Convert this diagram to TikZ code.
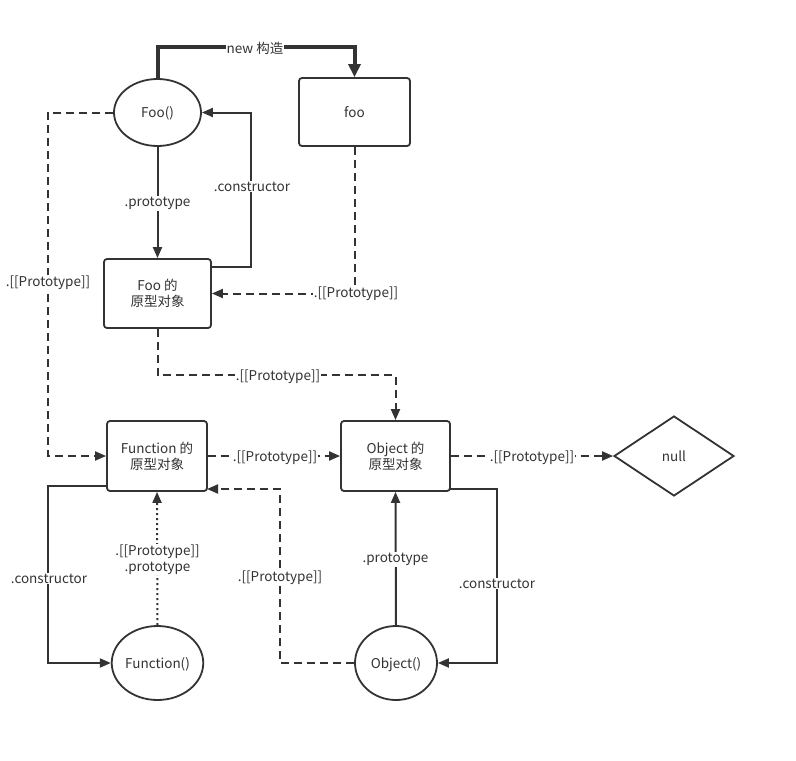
\documentclass[tikz,border=0pt]{standalone}
\usepackage{fontspec}
\setmainfont{Noto Sans CJK SC}
\usetikzlibrary{shapes.geometric,arrows.meta,calc}
\definecolor{ln}{HTML}{333333}
\newcommand{\lowtxt}[1]{\raisebox{-2pt}[\height][\depth]{\begin{tabular}{@{}c@{}}#1\end{tabular}}}
\begin{document}
\begin{tikzpicture}[x=1pt,y=-1pt,
 every node/.style={font=\fontsize{13.5}{16}\selectfont, text=ln},
 box/.style={draw=ln, line width=1.8pt, rounded corners=3pt, inner sep=0pt, align=center},
 oval/.style={ellipse, draw=ln, line width=1.8pt, inner sep=0pt},
 conn/.style={draw=ln, line width=2pt, -{Triangle[length=11pt,width=9pt]}},
 dconn/.style={conn, dash pattern=on 8pt off 5pt},
 oconn/.style={conn, dash pattern=on 2pt off 3pt},
 lbl/.style={fill=white, inner sep=1pt, align=center, yshift=-1.5pt},
]
\useasboundingbox (0,0) rectangle (796,761);
\fill[white] (0,0) rectangle (796,761);

% nodes
\node[oval, minimum width=87pt, minimum height=67pt] (Foo) at (157.5,112.5) {\lowtxt{Foo()}};
\node[box, minimum width=111pt, minimum height=68pt] (foo) at (354.5,112) {\lowtxt{foo}};
\node[box, minimum width=107pt, minimum height=69pt] (fp) at (157.5,293.5) {\lowtxt{Foo 的\\原型对象}};
\node[box, minimum width=100pt, minimum height=70pt] (funp) at (157,456) {\lowtxt{Function 的\\原型对象}};
\node[box, minimum width=109pt, minimum height=70pt] (objp) at (395.5,456) {\lowtxt{Object 的\\原型对象}};
\node[diamond, draw=ln, line width=1.8pt, inner sep=0pt, minimum width=120pt, minimum height=80pt] (null) at (674,456) {\lowtxt{null}};
\node[oval, minimum width=87pt, minimum height=74pt] (Fun) at (157.5,663) {\lowtxt{Function()}};
\node[oval, minimum width=82pt, minimum height=74pt] (Obj) at (396,663) {\lowtxt{Object()}};

% coordinates
\coordinate (n1) at (157.5,47);
\coordinate (n2) at (354.5,47);
\coordinate (c1) at (211,267);
\coordinate (c2) at (251,267);
\coordinate (c3) at (251,112.5);
\coordinate (d1) at (354.5,293.5);
\coordinate (e1) at (48,112.5);
\coordinate (e2) at (48,456);
\coordinate (f1) at (157.5,375);
\coordinate (f2) at (395.5,375);
\coordinate (g0) at (107,486);
\coordinate (g1) at (48,486);
\coordinate (g2) at (48,663);
\coordinate (h1) at (280,663);
\coordinate (h2) at (280,489);
\coordinate (h3) at (207,489);
\coordinate (k0) at (450,489);
\coordinate (k1) at (497,489);
\coordinate (k2) at (497,663);

% connectors
\draw[conn, line width=4pt, -{Triangle[length=13pt,width=12pt]}] (Foo.north) -- (n1) -- (n2) -- (foo.north);
\draw[conn] (Foo.south) -- (fp.north);
\draw[conn] (c1) -- (c2) -- (c3) -- (Foo.east);
\draw[dconn] (foo.south) -- (d1) -- (fp.east);
\draw[dconn] (Foo.west) -- (e1) -- (e2) -- (funp.west);
\draw[dconn] (fp.south) -- (f1) -- (f2) -- (objp.north);
\draw[dconn] (funp.east) -- (objp.west);
\draw[dconn] (objp.east) -- (null.west);
\draw[conn] (g0) -- (g1) -- (g2) -- (Fun.west);
\draw[oconn] (Fun.north) -- (funp.south);
\draw[dconn] (Obj.west) -- (h1) -- (h2) -- (h3);
\draw[conn] (Obj.north) -- (objp.south);
\draw[conn] (k0) -- (k1) -- (k2) -- (Obj.east);

% labels
\node[lbl] (l1) at (255,47) {new 构造};
\node[lbl] (l2) at (157.5,202) {.prototype};
\node[lbl] (l3) at (252,185) {.constructor};
\node[lbl] (l4) at (356,292.5) {.[[Prototype]]};
\node[lbl] (l5) at (48,281) {.[[Prototype]]};
\node[lbl] (l6) at (278,375) {.[[Prototype]]};
\node[lbl] (l7) at (275,456) {.[[Prototype]]};
\node[lbl] (l8) at (532,456) {.[[Prototype]]};
\node[lbl] (l9) at (49,577) {.constructor};
\node[lbl] (l10) at (157.5,558) {.[[Prototype]]\\.prototype};
\node[lbl] (l11) at (280,576) {.[[Prototype]]};
\node[lbl] (l12) at (395.5,558) {.prototype};
\node[lbl] (l13) at (497,582) {.constructor};
\end{tikzpicture}
\end{document}
